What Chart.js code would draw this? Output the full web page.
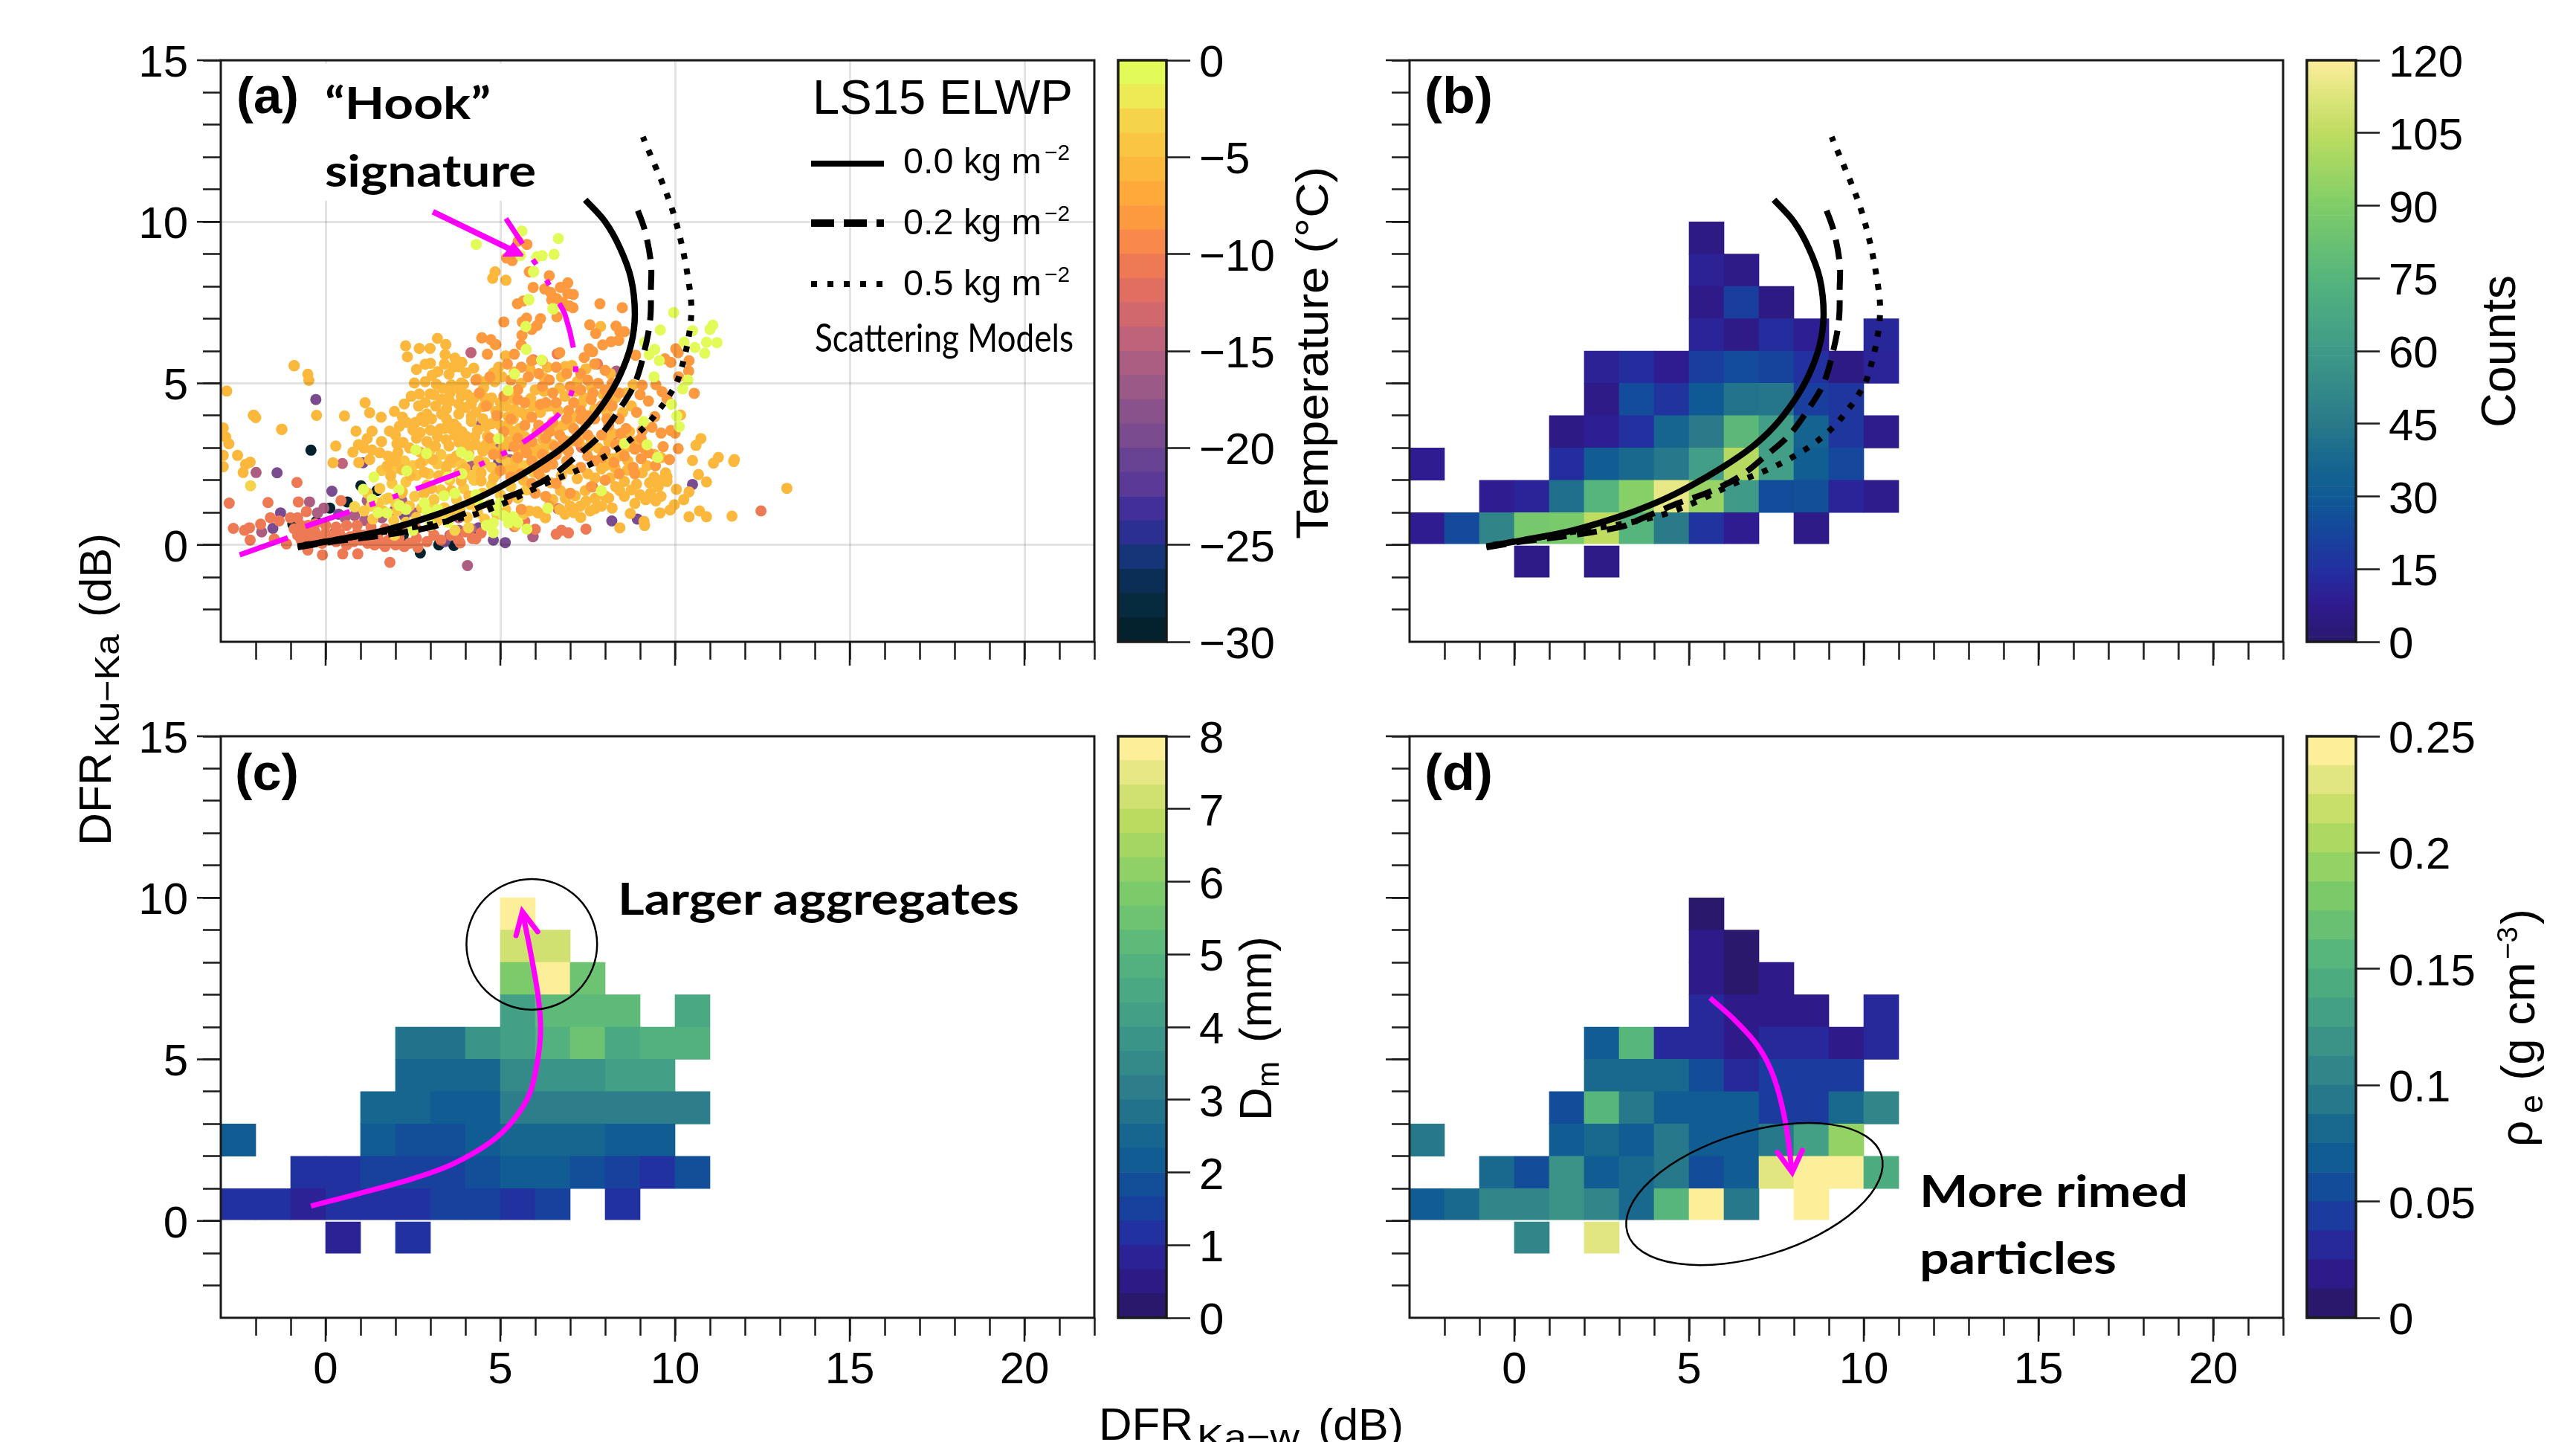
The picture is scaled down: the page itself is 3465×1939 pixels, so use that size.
<!DOCTYPE html>
<html>
<head>
<meta charset="utf-8">
<script src="https://cdn.jsdelivr.net/npm/chart.js@4/dist/chart.umd.js"></script>
<style>
  html, body { margin: 0; background: #fff; }
  body { position: relative; width: 3465px; height: 1939px; overflow: hidden; }
  canvas { position: absolute; }
  #labels { position: absolute; left: 0; top: 0; }
</style>
</head>
<body>
<svg id="labels" width="3465" height="1939" xmlns="http://www.w3.org/2000/svg"></svg>
<script>
const _ = null;

// heatmap bins, 1 dB wide
const binColsX = [-3, -2, -1, 0, 1, 2, 3, 4, 5, 6, 7, 8, 9, 10];
const binRowsY = [9, 8, 7, 6, 5, 4, 3, 2, 1, 0, -1];

const countsB = [
  [_, _, _, _, _, _, _, _, 5, _, _, _, _, _],
  [_, _, _, _, _, _, _, _, 10, 6, _, _, _, _],
  [_, _, _, _, _, _, _, _, 6, 20, 5, _, _, _],
  [_, _, _, _, _, _, _, _, 11, 6, 14, 9, _, 12],
  [_, _, _, _, _, 10, 14, 8, 20, 25, 22, 15, 5, 11],
  [_, _, _, _, _, 6, 25, 16, 30, 42, 43, 20, 17, _],
  [_, _, _, _, 5, 9, 15, 36, 45, 77, 62, 35, 17, 7],
  [8, _, _, _, 14, 31, 38, 44, 62, 103, 62, 32, 23, _],
  [_, _, 8, 11, 41, 75, 92, 115, 96, 60, 25, 26, 11, 7],
  [8, 24, 50, 87, 88, 105, 75, 45, 16, 8, _, 6, _, _],
  [_, _, _, 6, _, 6, _, _, _, _, _, _, _, _],
];

const dmC = [
  [_, _, _, _, _, _, _, _, 8, _, _, _, _, _],
  [_, _, _, _, _, _, _, _, 7, 7, _, _, _, _],
  [_, _, _, _, _, _, _, _, 5.9, 7.7, 5.4, _, _, _],
  [_, _, _, _, _, _, _, _, 4.1, 5, 5, 5, _, 4.5],
  [_, _, _, _, _, 2.8, 2.8, 3.8, 4.1, 4.7, 5.4, 4.5, 4.7, 4.7],
  [_, _, _, _, _, 2.4, 2.4, 2.4, 3.5, 3.8, 3.8, 4.1, 4.1, _],
  [_, _, _, _, 2.4, 2.4, 2.1, 2.3, 3, 3, 3.3, 3, 3, 3],
  [2.1, _, _, _, 2.2, 1.8, 1.8, 2.1, 2.4, 2.4, 2.4, 2.05, 2.05, _],
  [_, _, 1.1, 1.1, 1.4, 1.4, 1.4, 1.8, 2, 2, 1.8, 1.4, 1.1, 1.8],
  [1.05, 1.05, 0.75, 1.1, 1.1, 1.1, 1.4, 1.4, 1.1, 1.4, _, 1.1, _, _],
  [_, _, _, 0.8, _, 1.05, _, _, _, _, _, _, _, _],
];

const rhoD = [
  [_, _, _, _, _, _, _, _, 0.005, _, _, _, _, _],
  [_, _, _, _, _, _, _, _, 0.02, 0.005, _, _, _, _],
  [_, _, _, _, _, _, _, _, 0.02, 0.005, 0.02, _, _, _],
  [_, _, _, _, _, _, _, _, 0.035, 0.02, 0.02, 0.02, _, 0.035],
  [_, _, _, _, _, 0.065, 0.155, 0.035, 0.035, 0.022, 0.035, 0.035, 0.02, 0.035],
  [_, _, _, _, _, 0.08, 0.08, 0.08, 0.052, 0.035, 0.042, 0.042, 0.042, _],
  [_, _, _, _, 0.052, 0.155, 0.095, 0.068, 0.068, 0.068, 0.042, 0.042, 0.08, 0.102],
  [0.095, _, _, _, 0.068, 0.08, 0.065, 0.095, 0.068, 0.068, 0.09, 0.125, 0.195, _],
  [_, _, 0.08, 0.052, 0.115, 0.065, 0.08, 0.095, 0.052, 0.068, 0.225, 0.25, 0.25, 0.14],
  [0.065, 0.08, 0.105, 0.105, 0.115, 0.105, 0.08, 0.155, 0.25, 0.095, _, 0.25, _, _],
  [_, _, _, 0.105, _, 0.225, _, _, _, _, _, _, _, _],
];

// temperature dots of panel (a), one list per colour
const dotsTm29 = [[-0.42,2.93],[2.71,-0.25],[3.24,0],[3.67,-0.02],[1.01,1.83],[1.47,1.68],[0.12,1.14],[0.62,1.33],[-0.94,0.64],[-0.27,0.72],[0.27,0.38],[2.22,0.3],[4.24,0.38]];
const dotsTm20 = [[-0.28,4.5],[-1.39,2.23],[1.07,2.54],[0.18,1.66],[-1.29,0.99],[-1.51,0.51],[0.37,0.95],[3.41,0.1],[5.14,0.07],[4.8,0.15],[4.38,0.53],[5.58,0.91],[8.19,0.74],[8.92,0.8],[10.5,1.87],[4.95,2.57],[2.25,0.91]];
const dotsTm16 = [[-1.99,2.24],[-0.46,1.33],[-1.83,0.4],[-0.23,0.99],[-0.05,1.14],[4.06,-0.64],[0.83,0.91],[1.19,1.37],[1.61,0.84],[1.12,0.76],[0.55,0.84],[1.97,1.07],[2.54,0.99],[4.46,3.72],[5.29,3.06],[5.27,2.64],[4.98,3.02],[4.17,2.44],[3.81,0.45],[5.94,0.26],[4.47,3.74],[5.93,0.25],[-0.44,0.45],[2.18,1.37],[8.32,5.38]];
const dotsTm14 = [[4.16,5.95],[0.48,2.52],[3.56,0.3],[3.81,0.84],[4.16,0.5],[6.65,1.12]];
const dotsTm11 = [[-2.76,1.29],[-2.64,0.51],[-1.65,1.31],[-0.82,1.93],[-0.78,1.33],[-2.18,0.53],[-2.32,0.45],[-2.16,0.15],[-1.86,0.64],[-1.58,0.84],[-1.33,0.74],[-1.01,0.84],[-0.8,0.84],[-0.55,1.03],[-1.47,0.18],[-1.12,0.03],[-0.51,-0.16],[-0.09,-0.31],[0.49,-0.28],[0.92,-0.28],[1.84,-0.54],[2.25,-0.05],[2.64,-0.08],[0.44,1.37],
  [-0.9,0.5],[-0.8,0.3],[-0.7,0.15],[-0.6,0.45],[-0.5,0.25],[-0.4,0.1],[-0.3,0.4],[-0.2,0.2],[-0.1,0.05],[0,0.35],[0.1,0.15],[0.2,0.3],[0.3,0.1],[0.4,0.35],[0.5,0.2],[0.6,0],[0.7,0.25],[0.8,0.1],[0.9,0.35],[1,0.15],[1.1,0.3],[1.2,0.05],[1.3,0.25],[1.4,0],[1.5,0.2],[1.6,0.05],[1.7,-0.05],[1.8,0.15],[2,0],[2.1,0.2],[2.4,0.05],[2.6,0.2],[2.9,0.1],[3.1,0.3],[3.3,0.15],[3.6,0.3],[3.8,0.15],[4,0.4],[4.2,0.2],[-0.7,0.6],[-0.5,0.6],[-0.3,0.65],[0,0.6],[0.3,0.55],[0.6,0.6],[0.9,0.6],[1.3,0.55],[1.7,0.5],[2.2,0.45],[2.6,0.5],[3,0.55],
  [6.6,0.33],[6.75,0.45],[6.95,0.37],[7.45,0.49],[7.64,1.8],[4.3,0.19],[4.45,0.37],[3.85,0.06],[6,0.48],[5.7,0.73],[5.4,0.57],[12.46,1.05],[5.94,5.73],[6.63,5.91],[7.78,5.6],[8.24,3.42],[7.64,3.1],[7.32,3.02]];
const dotsTm3 = [[-2.15,1.83],[0.83,1.18],[3.7,0.45],[4.09,0.53],[1.97,0.3],[3.03,1.22],[1.3,1.2],[2,1.3],[1.7,1.4],[3.4,0.9]];
const dotsTm8 = [[10.02,6.07],[10.09,5.95],[10.4,5.7],[10.39,5.38],[10.1,5.2],[10.55,4.69],[9.88,3.54],[10,3.46],[9.6,3.46],[10.09,2.98],[9.66,3.04],[9.84,2.64],[9.44,2.45],[9.24,2.85],[9.03,2.67],[8.85,2.96],[9.34,3.64],[9.06,3.54],[9.03,3.3],[9.42,3.97],[9.24,4.45],[9.63,4.74],[9.77,4.53],[9,4.65],[9.45,4.96],[9.06,4.94],[9.71,5.76],[9.88,5.65],[8.87,5.87],[8.42,6.6],[8.31,6.77],[8.55,6.6],[7.85,7.46],[8.49,7.34],[7.56,6.81],[7.73,6.54],[7.54,6.07],[7.64,5.98],[7.93,6.19],[8.17,6.29],[8.39,6.33],
  [5.51,9.4],[5.76,9.3],[5.18,8.88],[5.34,8.8],[5.83,8.45],[6.4,8.33],[5.94,7.97],[6.27,7.92],[6.44,7.81],[6.72,7.97],[6.93,8.11],[7.09,7.75],[6.61,7.62],[6.47,7.58],[6.93,7.78],[6.79,7.5],[7.08,7.34],[6.97,7.4],[5.66,7.55],[5.49,7.46],[6.62,7.06],[6.15,7],[5.75,7.02],[5.63,6.9],[6.05,6.79],[5.9,6.67],[5.1,6.9],[5.62,6.49],[5.6,6.19],[4.47,6.41],[4.73,6.35],[4.87,6.2],[4.63,5.9],
  [5.2,5.6],[5.4,5.9],[5.6,5.5],[5.8,5.2],[5.3,5.1],[5.5,4.8],[5.1,4.6],[5.7,4.4],[5.9,5.7],[6.1,5.3],[6.2,5.7],[6.4,5.1],[6.5,4.7],[6.3,4.4],[6.6,5.5],[6.7,5.95],[6.9,5.3],[7,4.9],[7.1,4.4],[7.3,5.3],[7.3,4.8],[7.4,5.8],[7.5,5.1],[7.6,4.5],[7.7,5.6],[7.8,5],[7.9,4.3],[8,5.4],[8,4.8],[8.2,5],[8.2,4.3],[8.4,4.7],[8.4,3.9],[8.1,3.7],[7.9,3.4],[7.7,3.9],[7.5,3.4],[7.3,3.9],[7.1,3.6],[6.9,3.9],[6.7,3.4],[6.5,3.8],[6.3,3.3],[6.1,3.7],[5.9,3.2],[5.7,3.7],[5.5,3.3],[5.3,3.9],[5.1,3.5],[8.6,3.6],[8.7,3.2],[8.3,3.1],[8,2.9],[7.7,2.6],[7.3,2.4],[6.9,2.6],[6.5,2.5],[6.2,2.8],[5.9,2.6],[5.5,2.7],[6.1,2.2],[6.6,1.9],[7,1.6],[6.3,1.5],[5.9,1.9],[5.6,2.2],[5.3,2.1],[5,2.3],[4.8,2.8],[4.7,3.3],[4.9,4],[4.6,4.3],[4.4,4.7],[4.3,5.1],[4.7,5.2],[8.9,4.1],[9.1,3],[8.8,2.4],[8.4,2.2],[8,2],[7.6,1.8],[5.2,1.4],[5.6,1.1],[6,1.6],[6.4,1.2],
  [6.2,4.9],[6.6,4.4],[6.95,4.15],[7.3,4.15],[7.65,4.7],[8.05,4.5],[7.2,3.2],[7.5,2.75],[7.9,2.7],[8.25,2.55],[8.55,2.75],[8.85,2.2],[6.6,2.8],[6.95,2.9],[6.3,2.4],[5.75,2.85],[5.4,3.05],[5.05,2.8],[5.7,3.05],[6.8,3.25],[6.55,3.05],[6.4,3.5],[5.9,3.95],[6.15,4.35],[5.5,4.5],[7.5,4],[8.05,3.9],[8.45,3.45]];
const dotsTm6 = [[13.2,1.75],[11.63,0.89],[10.9,0.87],[10.7,1.05],[10.4,0.87],[11.7,2.64],[11.68,2.58],[11.24,2.71],[11.1,2.53],[10.74,3.29],[10.6,3.08],[10.5,2.61],[10.67,2.18],[10.9,1.95],[10.4,1.64],[10.25,1.4],[9.98,1.24],[9.86,1.08],[9.57,0.99],[9.13,0.6],[9.11,0.73],[8.42,0.53],[8.72,0.97],[8.2,1.14],[10.04,1.72],[9.77,2.11],[10.16,4.02],[7.87,6.76],[4.85,8.45],[4.78,8.25],[5.16,8.19],
  [2.29,6.16],[2.68,6.08],[2.99,6.08],[2.34,5.82],[3.2,6.39],[3.44,6.2],[3.42,5.89],[3.7,5.78],[2.85,5.59],[2.6,5.43],[3,5.62],[3.21,5.36],[3.53,5.28],[3.81,5.51],[4.02,5.32],[4.24,5.47],[2.54,5.01],[3.17,4.97],[3.88,5.01],[4.47,6.41],[4.85,6.2],[4.34,5.13],[4.56,5.05],[4.8,5.32],[4.84,5.05],[4.52,4.86],
  [2.68,4.67],[2.99,4.67],[3.56,4.7],[3.95,4.97],[3.32,4.51],[2.25,4.36],[2.66,4.3],[1.97,4.13],[1.13,4.4],[1.26,4.09],[1.59,3.95],[0.54,3.99],[-0.26,4.01],[-1.26,3.57],[-2.07,4.01],[-2,3.94],[-2.83,4.76],[-0.9,5.55],[-0.51,5.28],[-0.48,5.09],
  [0.87,3.52],[1.33,3.52],[1.19,3.29],[0.29,3.06],[0.94,3.1],[0.78,2.87],[1.33,2.94],[1.26,2.64],[0.21,2.54],[1.83,3.52],[2.11,3.67],[2.32,3.79],[2.57,3.79],[2.82,3.82],[3.03,3.9],[3.32,4.05],[3.81,4.36],[4.17,4.44],[3.46,3.9],[3.81,4.05],[4.17,3.98],[4.52,4.28],[3.28,3.59],[2.71,3.48],[3.6,3.59],[4.02,3.36],[4.59,3.67],[4.94,4.05],[5.37,3.9],
  [2.04,3.13],[2.22,3.17],[2.07,2.87],[1.79,2.75],[2,2.6],[1.76,2.44],[2.18,2.33],[1.86,2.14],[2.43,2.14],[2.71,2.52],[3.07,2.64],[3.14,3.06],[3.53,3.06],[2.71,2.87],[3.74,2.75],[4.13,3.06],[4.63,3.36],[4.8,2.9],[3.46,2.44],[3.99,2.37],[4.38,2.6],[2.82,2.25],[3.24,2.14],[3.88,1.98],[4.45,1.98],[4.88,2.18],[5.37,2.37],[5.94,2.75],[6.29,3.06],[3.03,1.75],[3.6,1.68],[4.1,1.52],[2.18,1.6],[2.82,1.6],[5.09,1.37],[6.08,0.99],[6.29,0.84],[5.44,0.61],
  [7.89,2.35],[8.28,2.39],[8.63,2.31],[9.06,2.23],[8.14,2.07],[8.55,1.96],[8.9,1.88],[9.27,1.92],[9.52,1.8],[8.42,1.68],[7.99,1.52],[7.71,1.44],[7.43,1.68],[7.14,1.52],[7.29,1.2],[7.57,1.05],[7.71,1.12],[7,1.2],[6.86,1.44],[6.72,1.68],[6.44,1.92],[6.29,0.85],[6.05,1.03],[5.83,1.05],[9.73,2.23],[9.77,1.96],[8.85,1.28],[9.45,1.36],[9.16,1.4],[8.21,2.67],[8.56,2.95],[7.71,2.07],
  [3.46,4.21],[3.88,4.61],[4.17,4.37],[4.66,4.37],[4.87,4.13],[4.17,3.82],[3.67,3.74],[3.81,3.18],[4.27,3.34],[4.59,3.1],[3.6,2.63],[4.1,2.83],[3.81,2.23],[4.45,2.23],[4.8,2.07],[5.23,2.31],[5.66,2],[6.08,2.47],[6.44,2.71],[5.44,2.63],[5.09,3.02],[5.37,3.5],[5.8,3.1],[6.22,3.26],[6.58,3.66],[7,3.74],[7.32,4.37],[6.86,5.52],[6.26,5.16],[5.37,4.53],[5.87,4.53],[6.37,4.29],[5.23,3.97],[5.8,4.05],[7.15,3.97],[7.47,3.97],
  [-2.93,3.62],[-2.86,3.34],[-2.77,3.13],[-2.93,2.77],[-2.93,2.42],[-2.52,2.77],[-2.29,2.49],[-2.36,2.24],[-2.16,2.56],[-2.05,4.01],[-1.25,3.58],[-0.9,5.54],
  [2.4,3],[2.6,3.3],[2.9,3.2],[3.2,3.35],[3.45,3.25],[3.7,3.4],[3.95,3.1],[4.3,3.1],[4.5,2.9],[4.75,3.2],[5,3.3],[5.25,3.2],[5.5,2.95],[5.7,3.35],[6,3],[6.25,2.95],[6.5,3.1],[6.75,3],[7,3.2],[7.25,3.2],[7.5,3],[7.8,3],[8.1,3.2],[8.4,2.75],[8.65,2.6],[8,2.45],[7.5,2.2],[7.2,2.05],[7,2.35],[6.75,2.15],[6.5,1.4],[6.7,1.1],[6.85,0.95],[7.1,1],[7.3,0.85],[7.45,1.35],[7.9,1.2],[8.1,1.45],[8.3,1.8],[8.55,1.5],[8.75,1.7],[9,1.55],[9.3,1.6],[9.6,1.5],[9.4,2.1],[9.6,2],[9.2,2.45],[9.4,2.8],[9.6,2.7],[8.9,3.2],[8.7,3.5],[8.5,4.1],[8.75,4.3],[8.6,4.7],[8.8,4.95],[8.3,4.55],[8.05,4.1],[7.7,4.2],[7.4,4.55],[7.15,4.75],[6.85,4.6],[6.65,4.15],[6.45,4.3],[6.15,4.1],[5.95,4.3],[5.6,4.1],[5.4,4.2],[5.15,4.3],[5,4.4],[4.75,4.55],[4.55,4.55],[4.25,4.55],[4.05,4.65],[3.85,4.8],[3.6,4.95],[3.35,4.85],[3.1,4.65],[2.85,4.4],[2.45,4.6],[2.9,4.05],[3.15,4.3],[3.55,4.45],[4,4.25],[4.3,4.1],[4.5,3.9],[4.75,3.75],[5,3.7],[5.2,3.7],[5.55,3.6],[5.75,3.95],[6.05,3.5],[6.3,3.6],[6.55,3.55],[6.8,3.7],[7.2,3.4],[7.45,3.75],[7.6,3.25],[8.2,3.45],[8.5,3.25],[2,3.4],[1.6,3.2],[1.55,2.85],[1.1,3],[0.95,2.55],[3.4,3.6],[3.75,3.65],[3.9,3.5],[4.35,3.55],[2.5,3.55],[2.2,3.95],[2.75,3.95],[3,3.55],[5.6,5],[6,4.8],[6.25,4.75],[6.7,4.85],[7.2,5.05],[7.6,4.9],[7.95,4.65],[8.15,5.3],[7.45,5.45],[7.05,5.55],[6.75,5.2],[6.35,5.5],[5.85,5.45],[5.4,5.35],[5.05,5.2],[5.15,5.85],[4.95,5.5],[3.65,5.5],[3.9,5.65],[3.05,5.25],[2.85,5.05],[3.4,5.6]];
const dotsTm4 = [[1.1,1.05],[1.35,0.8],[1.5,1.3],[1.65,1.05],[1.8,1.45],[1.95,0.75],[2.05,1.05],[2.2,1.65],[2.3,0.7],[2.4,1.2],[2.55,1.5],[2.6,0.85],[2.75,1.15],[2.9,1.85],[2.95,0.95],[3.1,1.4],[3.2,0.75],[3.3,1.7],[3.4,1.15],[3.55,2],[3.6,0.9],[3.75,1.4],[3.85,1.1],[3.95,1.75],[4.05,0.85],[4.15,1.25],[4.25,2],[4.35,1],[4.5,1.6],[4.55,0.8],[4.7,1.25],[4.75,1.85],[4.9,0.95],[5,1.55],[5.15,1.1],[5.3,1.8],[5.35,0.85],[5.5,1.45],[5.65,0.95],[5.75,1.7],[1.2,1.6],[1.55,1.75],[1.9,1.9],[2.3,1.95],[2.6,2.15],[2.95,2.2],[3.2,2.5],[3.45,2.3],[3.65,2.55],[3.9,2.5],[4.15,2.15],[4.35,2.35],[4.55,2.55],[4.75,2.4],[5,2.7],[5.2,2.55],[5.45,2.35],[5.7,2.45],[5.95,2.25],[6.2,2.05],[1.6,2.3],[1.95,2.35],[2.25,2.6],[2.5,2.45],[2.8,2.6],[3,2.95],[3.3,2.8],[3.55,2.65]];
const dotsTm0 = [[5.62,9.71],[6.66,9.48],[4.31,9.3],[6.54,8.99],[6.2,8.95],[6.05,8.92],[5.58,8.96],[5.95,8.45],[6.52,7.3],[5.81,7.6],[5.73,6.76],[5.74,6.05],[11.2,6.26],[11.08,6.8],[11,6.67],[10.9,6.27],[10.85,5.93],[10.5,6.63],[10.57,6.11],[10.26,6.27],[9.96,7.19],[9.58,6.65],[9.42,6.05],[9.26,5.89],[9.55,5.7],[10.37,5.1],[10.22,4.83],[9.9,4.35],[10.05,3.99],[10.12,3.66],[9.4,5.2],[9.13,6.27],
  [5.96,8.46],[5.82,7.58],[6.5,7.31],[6.18,5.72],[5.41,5.29],[5.22,4.78],[1.38,2.1],[1.08,1.72],[1.33,1.41],[2.32,2.29],[2.58,2.94],[2.89,2.83],[3.88,2.87],[4.09,2.75],[4.95,3.29],[3.39,1.52],[2.82,1.3],[4.8,0.68],[5.23,0.68],[5.76,0.49],[5.37,0.87],[6.36,1.14],[4.8,0.38],[4.38,1.37],[4.88,1.07],[2.11,1.22],[1.76,0.99],[8.56,3.14],[9.2,3.1],[9.5,2.71],[9.1,3.82],[7.89,1.68],
  [1.5,1],[2.3,1.1],[3.2,1.1],[3.7,1.6],[4.3,1.55],[4.6,0.6],[2.9,1.05],[3.5,2.1],[2.1,1.7],[3.9,2.2],[5.5,0.7],[5,1.3],[5.1,0.9],[3,0.6],[3.5,0.7],[2.5,0.45]];

// LS15 model curves, shared by panels (a) and (b)
const modelElwp00 = [[-0.8,-0.05],[0.27,0.15],[1.68,0.45],[3.1,0.91],[4.17,1.36],[5,1.8],[5.94,2.39],[6.79,3.02],[7.43,3.66],[8,4.45],[8.42,5.24],[8.74,6.19],[8.85,7.14],[8.74,8.25],[8.42,9.2],[8,10],[7.43,10.68]];
const modelElwp02 = [[-0.8,-0.08],[0.27,0.11],[1.68,0.3],[3.1,0.57],[3.46,0.73],[4.66,1.28],[5.58,1.64],[6.44,2.11],[7.14,2.71],[7.85,3.38],[8.42,4.21],[8.85,5],[9.13,6.03],[9.29,6.98],[9.31,7.93],[9.31,8.72],[9.13,9.75],[8.88,10.5]];
const modelElwp05 = [[-0.62,0],[1.55,0.38],[4.26,0.94],[6.51,2],[6.91,2.17],[7.33,2.37],[7.75,2.59],[8.14,2.83],[8.53,3.1],[8.9,3.42],[9.22,3.75],[9.52,4.15],[9.79,4.55],[10.1,5.17],[10.43,6.72],[10.43,7.85],[9.96,10.24],[9.08,12.63]];

// magenta annotations
const hookTail = [[-2.46,-0.31],[-1.08,0.22]];
const hookPath = [[-0.58,0.57],[0.69,1.03],[2.46,1.68],[3.7,2.18],[4.27,2.41],[4.88,2.73],[5.44,3.02],[6.5,3.86],[6.9,4.37],[7.12,5.06],[7.14,5.76],[6.86,7.1],[6.56,7.7],[6.24,8.35],[5.9,8.88],[5.16,10.1]];
const hookArrow = [[3.07,10.31],[5.4,9.09]];
const hookArrowHead = [[5.65,8.96],[5.12,8.96],[5.37,9.32],[5.65,8.96]];
const growthPath = [[-0.42,0.46],[0.9,0.83],[2.53,1.32],[3.62,1.75],[4.71,2.43],[5.36,3.1],[5.85,3.97],[6.1,5.2],[6.15,6.06],[6.07,7.04],[5.85,8.4],[5.63,9.57]];
const growthHead = [[5.45,8.83],[5.63,9.57],[6.07,8.95]];
const rimingPath = [[5.6,6.9],[6.34,6.18],[6.99,5.38],[7.42,4.46],[7.75,3.1],[7.95,1.5]];
const rimingHead = [[7.53,2.12],[7.95,1.5],[8.24,2.18]];

// colour bars
const thermalBands = ["#03222e","#062a3e","#0a2e56","#163478","#2a2f90","#432f98","#5a3a96","#684293","#7a4b8e","#8a528a","#9a5986","#ab5e82","#bf637a","#d0686e","#e06f62","#ee7a55","#f8894a","#fd9a40","#fea93a","#fcb83c","#f9c543","#f5d44b","#ecea55","#e3fb58"];
const halineT = [0, 0.07, 0.125, 0.19, 0.25, 0.31, 0.375, 0.5, 0.625, 0.75, 0.875, 1];
const halineC = ["#2a186c","#2f1c92","#2230a0","#15469c","#0f5a94","#17678f","#2a7a8a","#3f9a88","#55b57c","#7fcd68","#bedc60","#fdee99"];

const tempTicksLabel = "Temperature (\u00B0C)";
const ink = "#1a1a1a";
const unitFont = "Liberation Sans";

function hexToRgb(h) {
  return [1, 3, 5].map((i) => parseInt(h.substr(i, 2), 16));
}

function halineColor(t) {
  t = Math.min(1, Math.max(0, t));
  let i = 0;
  while (i < halineT.length - 2 && t > halineT[i + 1]) i++;
  const f = (t - halineT[i]) / (halineT[i + 1] - halineT[i]);
  const a = hexToRgb(halineC[i]), b = hexToRgb(halineC[i + 1]);
  return `rgb(${a.map((v, k) => Math.round(v + (b[k] - v) * f)).join(",")})`;
}

function bandedColor(v, max, levels) {
  if (!levels) return halineColor(v / max);
  const idx = Math.min(levels - 1, Math.floor((v / max) * levels));
  return halineColor(idx / (levels - 1));
}

function thermalColor(temp) {
  const idx = Math.min(23, Math.max(0, Math.floor(((temp + 30) / 30) * 24)));
  return thermalBands[idx];
}

const toXY = (list) => list.map((p) => ({ x: p[0], y: p[1] }));

function curve(list, color, width, dash, tension) {
  return {
    type: "scatter",
    data: toXY(list),
    showLine: true,
    pointRadius: 0,
    borderColor: color,
    borderWidth: width,
    borderDash: dash || [],
    tension: tension === undefined ? 0.35 : tension,
  };
}

function modelCurves() {
  return [
    curve(modelElwp05, "#000", 8, [8, 13]),
    curve(modelElwp02, "#000", 8, [27, 14]),
    curve(modelElwp00, "#000", 8.5),
  ];
}

function heatCells(matrix, max, levels) {
  const cells = [], colors = [];
  binRowsY.forEach((rowY, r) => {
    binColsX.forEach((colX, c) => {
      const v = matrix[r][c];
      if (v === null) return;
      cells.push({ x: colX + 0.5, y: [rowY, rowY + 1] });
      colors.push(bandedColor(v, max, levels));
    });
  });
  return {
    type: "bar",
    data: cells,
    backgroundColor: colors,
    borderWidth: 0,
    barPercentage: 1,
    categoryPercentage: 1,
  };
}

// first listed is painted first; chart.js paints higher order first
function paintOrder(list) {
  list.forEach((d, i) => { d.order = list.length - i; });
  return list;
}

// panel box, longer ticks on the 5 dB marks, rings and masks
const panelExtras = {
  id: "panelExtras",
  afterDraw(chart, args, opts) {
    const ctx = chart.ctx, a = chart.chartArea;
    const xs = chart.scales.x, ys = chart.scales.y;
    ctx.save();
    if (opts.mask) {
      ctx.fillStyle = "#fff";
      const x0 = xs.getPixelForValue(opts.mask[0]), x1 = xs.getPixelForValue(opts.mask[1]);
      const y0 = ys.getPixelForValue(opts.mask[2]), y1 = ys.getPixelForValue(opts.mask[3]);
      ctx.fillRect(x0, y1, x1 - x0, y0 - y1);
    }
    (opts.rings || []).forEach((r) => {
      const unit = xs.getPixelForValue(1) - xs.getPixelForValue(0);
      ctx.beginPath();
      ctx.ellipse(xs.getPixelForValue(r.cx), ys.getPixelForValue(r.cy), r.a * unit, r.b * unit, (r.deg * Math.PI) / 180, 0, Math.PI * 2);
      ctx.strokeStyle = "#000";
      ctx.lineWidth = 2.5;
      ctx.stroke();
    });
    ctx.strokeStyle = ink;
    if (opts.majorTicks) {
      ctx.lineWidth = 2.5;
      ctx.beginPath();
      xs.ticks.forEach((t) => {
        if (t.value % 5 !== 0) return;
        const px = xs.getPixelForValue(t.value);
        ctx.moveTo(px, a.bottom);
        ctx.lineTo(px, a.bottom + opts.majorTicks);
      });
      ys.ticks.forEach((t) => {
        if (t.value % 5 !== 0) return;
        const py = ys.getPixelForValue(t.value);
        ctx.moveTo(a.left, py);
        ctx.lineTo(a.left - opts.majorTicks, py);
      });
      ctx.stroke();
    }
    ctx.lineWidth = opts.frame || 3;
    ctx.strokeRect(a.left, a.top, a.right - a.left, a.bottom - a.top);
    ctx.restore();
  },
};

// two-line tick label with a short line height nudges the digits down a little
const nudged = (s) => (s === "" ? "" : ["", s]);
const nudgedFont = { family: unitFont, size: 60, lineHeight: "11px" };

function makePanel(id, box, datasets, cfg) {
  const canvas = document.getElementById(id);
  const padTop = 60, yRoom = 200, xRoom = 110, padRight = 40;
  canvas.width = yRoom + box.w + padRight;
  canvas.height = padTop + box.h + xRoom;
  canvas.style.left = box.l - yRoom + "px";
  canvas.style.top = box.t - padTop + "px";

  const gridColor = (c) => (cfg.grid && c.tick && c.tick.value % 5 === 0 ? "rgba(0,0,0,0.11)" : "rgba(0,0,0,0)");
  const tickColor = (c) => (c.tick && c.tick.value === -3 ? "rgba(0,0,0,0)" : ink);

  new Chart(canvas, {
    type: "bar",
    data: { datasets: paintOrder(datasets) },
    options: {
      responsive: false,
      animation: false,
      devicePixelRatio: 1,
      layout: { autoPadding: false, padding: { top: padTop, right: padRight, left: 0, bottom: 0 } },
      plugins: {
        legend: { display: false },
        tooltip: { enabled: false },
        panelExtras: { majorTicks: 32, mask: cfg.mask, rings: cfg.rings },
      },
      scales: {
        x: {
          type: "linear",
          offset: false,
          min: -3,
          max: 22,
          afterFit: (s) => { s.height = xRoom; },
          border: { display: false },
          grid: { offset: false, color: gridColor, lineWidth: 3, z: 1, tickColor, tickWidth: 2.5, tickLength: 24 },
          ticks: {
            stepSize: 1,
            autoSkip: false,
            maxRotation: 0,
            padding: 11,
            color: "#000",
            font: { family: unitFont, size: 60 },
            callback: (v) => (cfg.xLabels && v % 5 === 0 && v >= 0 ? String(v) : ""),
          },
        },
        y: {
          type: "linear",
          min: -3,
          max: 15,
          afterFit: (s) => { s.width = yRoom; },
          border: { display: false },
          grid: { color: gridColor, lineWidth: 3, z: 1, tickColor, tickWidth: 2.5, tickLength: 24 },
          ticks: {
            stepSize: 1,
            autoSkip: false,
            padding: 20,
            color: "#000",
            font: nudgedFont,
            callback: (v) => nudged(cfg.yLabels && v % 5 === 0 && v >= 0 ? String(v) : ""),
          },
        },
      },
    },
    plugins: [panelExtras],
  });
}

function makeColorbar(id, box, range, bands, tickFmt) {
  const canvas = document.getElementById(id);
  const padTop = 60, padLeft = 4, yRoom = 190;
  canvas.width = padLeft + box.w + yRoom;
  canvas.height = padTop * 2 + box.h;
  canvas.style.left = box.l - padLeft + "px";
  canvas.style.top = box.t - padTop + "px";

  const step = (range.max - range.min) / bands.length;
  const datasets = bands.map((color, i) => ({
    data: [[range.min + i * step, range.min + (i + 1) * step]],
    backgroundColor: color,
    borderWidth: 0,
    barPercentage: 1,
    categoryPercentage: 1,
    grouped: false,
  }));

  new Chart(canvas, {
    type: "bar",
    data: { labels: [""], datasets },
    options: {
      responsive: false,
      animation: false,
      devicePixelRatio: 1,
      layout: { autoPadding: false, padding: { top: padTop, bottom: padTop, left: padLeft, right: 0 } },
      plugins: {
        legend: { display: false },
        tooltip: { enabled: false },
        panelExtras: { frame: 3.5 },
      },
      scales: {
        x: { display: false },
        y: {
          position: "right",
          min: range.min,
          max: range.max,
          afterFit: (s) => { s.width = yRoom; },
          border: { display: false },
          grid: { drawOnChartArea: false, tickColor: ink, tickWidth: 2.5, tickLength: 32 },
          ticks: {
            stepSize: range.step,
            autoSkip: false,
            padding: 12,
            color: "#000",
            font: nudgedFont,
            callback: (v) => nudged(tickFmt(v)),
          },
        },
      },
    },
    plugins: [panelExtras],
  });
}

// all free text goes through svg text so it stays real text
function addText(str, x, y, size, o) {
  o = o || {};
  const el = document.createElementNS("http://www.w3.org/2000/svg", "text");
  el.textContent = str;
  el.setAttribute("x", 0);
  el.setAttribute("y", 0);
  el.setAttribute("font-family", o.family || unitFont);
  el.setAttribute("font-size", size);
  if (o.bold) el.setAttribute("font-weight", "700");
  if (o.len) {
    el.setAttribute("textLength", o.len);
    el.setAttribute("lengthAdjust", "spacingAndGlyphs");
  }
  el.setAttribute("transform", `translate(${x} ${y})${o.vertical ? " rotate(-90)" : ""}`);
  el.setAttribute("fill", "#000");
  document.getElementById("labels").appendChild(el);
}

function addLegendLine(y, width, dash) {
  const el = document.createElementNS("http://www.w3.org/2000/svg", "line");
  el.setAttribute("x1", 1091);
  el.setAttribute("x2", 1189);
  el.setAttribute("y1", y);
  el.setAttribute("y2", y);
  el.setAttribute("stroke", "#000");
  el.setAttribute("stroke-width", width);
  if (dash) el.setAttribute("stroke-dasharray", dash);
  document.getElementById("labels").appendChild(el);
}

["panelA", "barA", "panelB", "barB", "panelC", "barC", "panelD", "barD"].forEach((id) => {
  const c = document.createElement("canvas");
  c.id = id;
  document.body.insertBefore(c, document.getElementById("labels"));
});

const boxA = { l: 297, t: 81, w: 1175, h: 782 };
const boxB = { l: 1896, t: 81, w: 1175, h: 782 };
const boxC = { l: 297, t: 990, w: 1175, h: 782 };
const boxD = { l: 1896, t: 990, w: 1175, h: 782 };

const dotGroups = [
  [-29, dotsTm29], [-20, dotsTm20], [-16, dotsTm16], [-14, dotsTm14], [-11, dotsTm11],
  [-3, dotsTm3], [-4.5, dotsTm4], [-5.6, dotsTm6], [-8, dotsTm8], [-0.5, dotsTm0],
];
const dotSets = dotGroups.map(([temp, list]) => ({
  type: "scatter",
  data: toXY(list),
  pointRadius: 7.5,
  pointBorderWidth: 0,
  pointBackgroundColor: thermalColor(temp),
}));

makePanel("panelA", boxA, [
  ...dotSets,
  ...modelCurves(),
  curve(hookTail, "#ff00ff", 7, [], 0),
  curve(hookPath, "#ff00ff", 7, [63, 28, 8, 25, 8, 25]),
  curve(hookArrow, "#ff00ff", 8, [], 0),
  Object.assign(curve(hookArrowHead, "#ff00ff", 3, [], 0), { fill: "shape", backgroundColor: "#ff00ff" }),
], { grid: true, yLabels: true, mask: [-2.9, 6.3, 10.65, 14.9] });

makePanel("panelB", boxB, [heatCells(countsB, 120), ...modelCurves()], {});

makePanel("panelC", boxC, [
  heatCells(dmC, 8, 24),
  curve(growthPath, "#ff00ff", 7),
  Object.assign(curve(growthHead, "#ff00ff", 7, [], 0), { borderCapStyle: "round" }),
], { xLabels: true, yLabels: true, rings: [{ cx: 5.9, cy: 8.56, a: 1.87, b: 1.87, deg: 0 }] });

makePanel("panelD", boxD, [
  heatCells(rhoD, 0.25, 20),
  curve(rimingPath, "#ff00ff", 7),
  Object.assign(curve(rimingHead, "#ff00ff", 7, [], 0), { borderCapStyle: "round" }),
], { xLabels: true, rings: [{ cx: 6.87, cy: 0.83, a: 3.8, b: 1.78, deg: -17 }] });

const smooth = [];
for (let i = 0; i < 120; i++) smooth.push(halineColor((i + 0.5) / 120));
const bands24 = [];
for (let i = 0; i < 24; i++) bands24.push(halineColor(i / 23));
const bands20 = [];
for (let i = 0; i < 20; i++) bands20.push(halineColor(i / 19));

const plainTick = (v) => String(+v.toFixed(2)).replace("-", "\u2212");
makeColorbar("barA", { l: 1504, t: 81, w: 65, h: 782 }, { min: -30, max: 0, step: 5 }, thermalBands, plainTick);
makeColorbar("barB", { l: 3103, t: 81, w: 66, h: 782 }, { min: 0, max: 120, step: 15 }, smooth, plainTick);
makeColorbar("barC", { l: 1504, t: 990, w: 65, h: 782 }, { min: 0, max: 8, step: 1 }, bands24, plainTick);
makeColorbar("barD", { l: 3103, t: 990, w: 66, h: 782 }, { min: 0, max: 0.25, step: 0.05 }, bands20, plainTick);

// panel tags
addText("(a)", 318, 152, 68, { bold: true, len: 84 });
addText("(b)", 1916, 152, 68, { bold: true, len: 92 });
addText("(c)", 316, 1062, 68, { bold: true, len: 86 });
addText("(d)", 1916, 1062, 68, { bold: true, len: 92 });

// annotations
addText("\u201CHook\u201D", 437, 160, 60, { bold: true, family: "Lato", len: 223 });
addText("signature", 437, 251, 60, { bold: true, family: "Lato", len: 284 });
addText("Larger aggregates", 831, 1230, 60, { bold: true, family: "Lato", len: 540 });
addText("More rimed", 2582, 1623, 60, { bold: true, family: "Lato", len: 361 });
addText("particles", 2582, 1713, 60, { bold: true, family: "Lato", len: 265 });

// legend of panel (a)
addText("LS15 ELWP", 1093, 153, 64, { len: 350 });
addLegendLine(220, 8);
addLegendLine(300, 10, "31 13");
addLegendLine(382, 8, "8 14");
[["0.0 kg m", 233], ["0.2 kg m", 315], ["0.5 kg m", 397]].forEach(([txt, y]) => {
  addText(txt, 1215, y, 48.5);
  addText("\u22122", 1405, y - 18, 30);
});
addText("Scattering Models", 1096, 473, 52, { family: "Lato", len: 348 });

// axis titles
addText("DFR", 149, 1137, 61, { vertical: true, len: 125 });
addText("Ku\u2212Ka", 160, 1005, 47, { vertical: true, len: 152 });
addText("(dB)", 149, 830, 60, { vertical: true, len: 113 });

addText("DFR", 1478, 1936, 61, { len: 127 });
addText("Ka\u2212w", 1610, 1948, 47, { len: 138 });
addText("(dB)", 1773, 1936, 60, { len: 115 });

addText(tempTicksLabel, 1786, 725, 62, { vertical: true, len: 501 });
addText("Counts", 3383, 575, 65, { vertical: true, len: 205 });

addText("D", 1710, 1507, 62, { vertical: true });
addText("m", 1720, 1462, 42, { vertical: true });
addText("(mm)", 1710, 1402, 61, { vertical: true, len: 143 });

addText("\u03C1", 3406, 1542, 62, { vertical: true });
addText("e", 3420, 1497, 45, { vertical: true });
addText("(g cm", 3409, 1453, 63, { vertical: true, len: 159 });
addText("\u22123", 3386, 1290, 39, { vertical: true, len: 44 });
addText(")", 3409, 1243, 63, { vertical: true });
</script>
</body>
</html>
